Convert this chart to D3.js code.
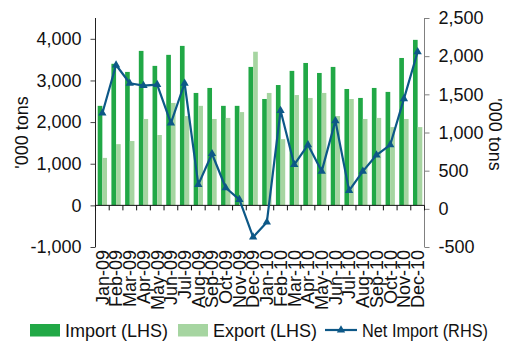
<!DOCTYPE html>
<html>
<head>
<meta charset="utf-8">
<script src="https://cdn.jsdelivr.net/npm/d3@7"></script>
<style>
  html, body { margin: 0; padding: 0; background: #fff; }
  svg { display: block; font-family: Arial, "Liberation Sans", sans-serif; }
</style>
</head>
<body>
<svg id="chart" width="516" height="344"></svg>
<script>
// Monthly trade volumes, '000 tons
const months = ["Jan-09","Feb-09","Mar-09","Apr-09","May-09","Jun-09","Jul-09","Aug-09","Sep-09","Oct-09","Nov-09","Dec-09",
                "Jan-10","Feb-10","Mar-10","Apr-10","May-10","Jun-10","Jul-10","Aug-10","Sep-10","Oct-10","Nov-10","Dec-10"];
const importVals = [2390, 3400, 3205, 3710, 3350, 3615, 3830, 2700, 2820, 2390, 2390, 3325,
                    2555, 2890, 3230, 3420, 3180, 3325, 2795, 2580, 2820, 2725, 3540, 3975];
const exportVals = [1140, 1470, 1545, 2075, 1690, 2460, 2145, 2390, 2075, 2100, 2240, 3690,
                    2700, 1590, 2650, 2580, 2700, 2145, 2555, 2075, 2100, 1880, 2075, 1880];
const netImport = [1253, 1884, 1645, 1614, 1627, 1123, 1645, 317, 722, 276, 121, -371,
                   -175, 1287, 578, 839, 491, 1153, 239, 491, 705, 839, 1440, 2057];
const leftTicks = [-1000, 0, 1000, 2000, 3000, 4000];
const rightTicks = [-500, 0, 500, 1000, 1500, 2000, 2500];

const colImport = "#21a846", colExport = "#a6d5a1", colNet = "#0d5887";
const fontSize = 18;

const svg = d3.select("#chart");
const plot = { left: 95.5, right: 424.5, top: 18, bottom: 247 };

const x = d3.scaleBand().domain(months).range([plot.left, plot.right]).padding(0);
const yL = d3.scaleLinear().domain([-1000, 4500]).range([plot.bottom, plot.top]);
const yR = d3.scaleLinear().domain([-500, 2500]).range([plot.bottom, plot.top]);

const loc = d3.formatLocale({ decimal: ".", thousands: ",", grouping: [3], currency: ["", ""], minus: "-" });
const fmt = loc.format(",");

const bw = x.bandwidth() * 0.34;

// Bars
svg.append("g").selectAll("rect").data(months).join("rect")
  .attr("x", d => x(d) + x.bandwidth() / 2 - bw)
  .attr("width", bw)
  .attr("y", (d, i) => yL(Math.max(0, importVals[i])))
  .attr("height", (d, i) => Math.abs(yL(importVals[i]) - yL(0)))
  .attr("fill", colImport);

svg.append("g").selectAll("rect").data(months).join("rect")
  .attr("x", d => x(d) + x.bandwidth() / 2)
  .attr("width", bw)
  .attr("y", (d, i) => yL(Math.max(0, exportVals[i])))
  .attr("height", (d, i) => Math.abs(yL(exportVals[i]) - yL(0)))
  .attr("fill", colExport);

// Left axis
const gL = svg.append("g").attr("transform", `translate(${plot.left},0)`)
  .call(d3.axisLeft(yL).tickValues(leftTicks).tickFormat(fmt).tickSize(5).tickSizeOuter(0).tickPadding(9));
gL.select(".domain").remove();
gL.append("line").attr("y1", plot.top).attr("y2", plot.bottom).attr("stroke", "#222");
gL.selectAll(".tick line").attr("stroke", "#444");
gL.selectAll("text").attr("font-size", fontSize).attr("fill", "#111").attr("font-family", null);

// Right axis
const gR = svg.append("g").attr("transform", `translate(${plot.right},0)`)
  .call(d3.axisRight(yR).tickValues(rightTicks).tickFormat(fmt).tickSize(5).tickSizeOuter(0).tickPadding(9));
gR.select(".domain").remove();
gR.append("line").attr("y1", plot.top).attr("y2", plot.bottom).attr("stroke", "#808080");
gR.selectAll(".tick line").attr("stroke", "#808080");
gR.selectAll("text").attr("font-size", fontSize).attr("fill", "#111").attr("font-family", null);

// Category axis at left zero
const y0 = yL(0);
const gX = svg.append("g");
gX.append("line").attr("x1", plot.left).attr("x2", plot.right).attr("y1", y0).attr("y2", y0).attr("stroke", "#111");
const bounds = months.map(m => x(m)).concat([plot.right]);
gX.selectAll("line.t").data(bounds).join("line").attr("class", "t")
  .attr("x1", d => d).attr("x2", d => d).attr("y1", y0).attr("y2", y0 + 5).attr("stroke", "#111");

// Month labels, rotated
svg.append("g").selectAll("text").data(months).join("text")
  .attr("transform", d => `translate(${x(d) + x.bandwidth() / 2},250) rotate(-90)`)
  .attr("text-anchor", "end")
  .attr("dy", "0.35em")
  .attr("font-size", fontSize)
  .attr("fill", "#111")
  .text(d => d);

// Net import line and markers
const line = d3.line().x((d, i) => x(months[i]) + x.bandwidth() / 2).y(d => yR(d));
svg.append("path").datum(netImport).attr("d", line)
  .attr("fill", "none").attr("stroke", colNet).attr("stroke-width", 2.2).attr("stroke-linejoin", "round");
const tri = d3.symbol().type(d3.symbolTriangle).size(30);
svg.append("g").selectAll("path").data(netImport).join("path")
  .attr("transform", (d, i) => `translate(${x(months[i]) + x.bandwidth() / 2},${yR(d)})`)
  .attr("d", tri).attr("fill", colNet);

// Axis titles
svg.append("text")
  .attr("transform", `translate(28,${(plot.top + plot.bottom) / 2}) rotate(-90)`)
  .attr("text-anchor", "middle").attr("font-size", fontSize).attr("fill", "#111")
  .text("'000 tons");
svg.append("text")
  .attr("transform", `translate(489,${(plot.top + plot.bottom) / 2 + 2}) rotate(90)`)
  .attr("text-anchor", "middle").attr("font-size", fontSize).attr("fill", "#111")
  .text("'000 tons");

// Legend
const lg = svg.append("g");
lg.append("rect").attr("x", 30).attr("y", 324).attr("width", 30).attr("height", 12.5).attr("fill", colImport);
lg.append("text").attr("x", 65).attr("y", 337).attr("font-size", fontSize).attr("fill", "#111").text("Import (LHS)");
lg.append("rect").attr("x", 178).attr("y", 324).attr("width", 30).attr("height", 12.5).attr("fill", colExport);
lg.append("text").attr("x", 213).attr("y", 337).attr("font-size", fontSize).attr("fill", "#111").text("Export (LHS)");
lg.append("line").attr("x1", 325).attr("x2", 357).attr("y1", 330).attr("y2", 330).attr("stroke", colNet).attr("stroke-width", 2.2);
lg.append("path").attr("transform", "translate(341,330)").attr("d", tri).attr("fill", colNet);
lg.append("text").attr("x", 362).attr("y", 337).attr("font-size", fontSize).attr("fill", "#111")
  .attr("textLength", 126).attr("lengthAdjust", "spacingAndGlyphs").text("Net Import (RHS)");
</script>
</body>
</html>
